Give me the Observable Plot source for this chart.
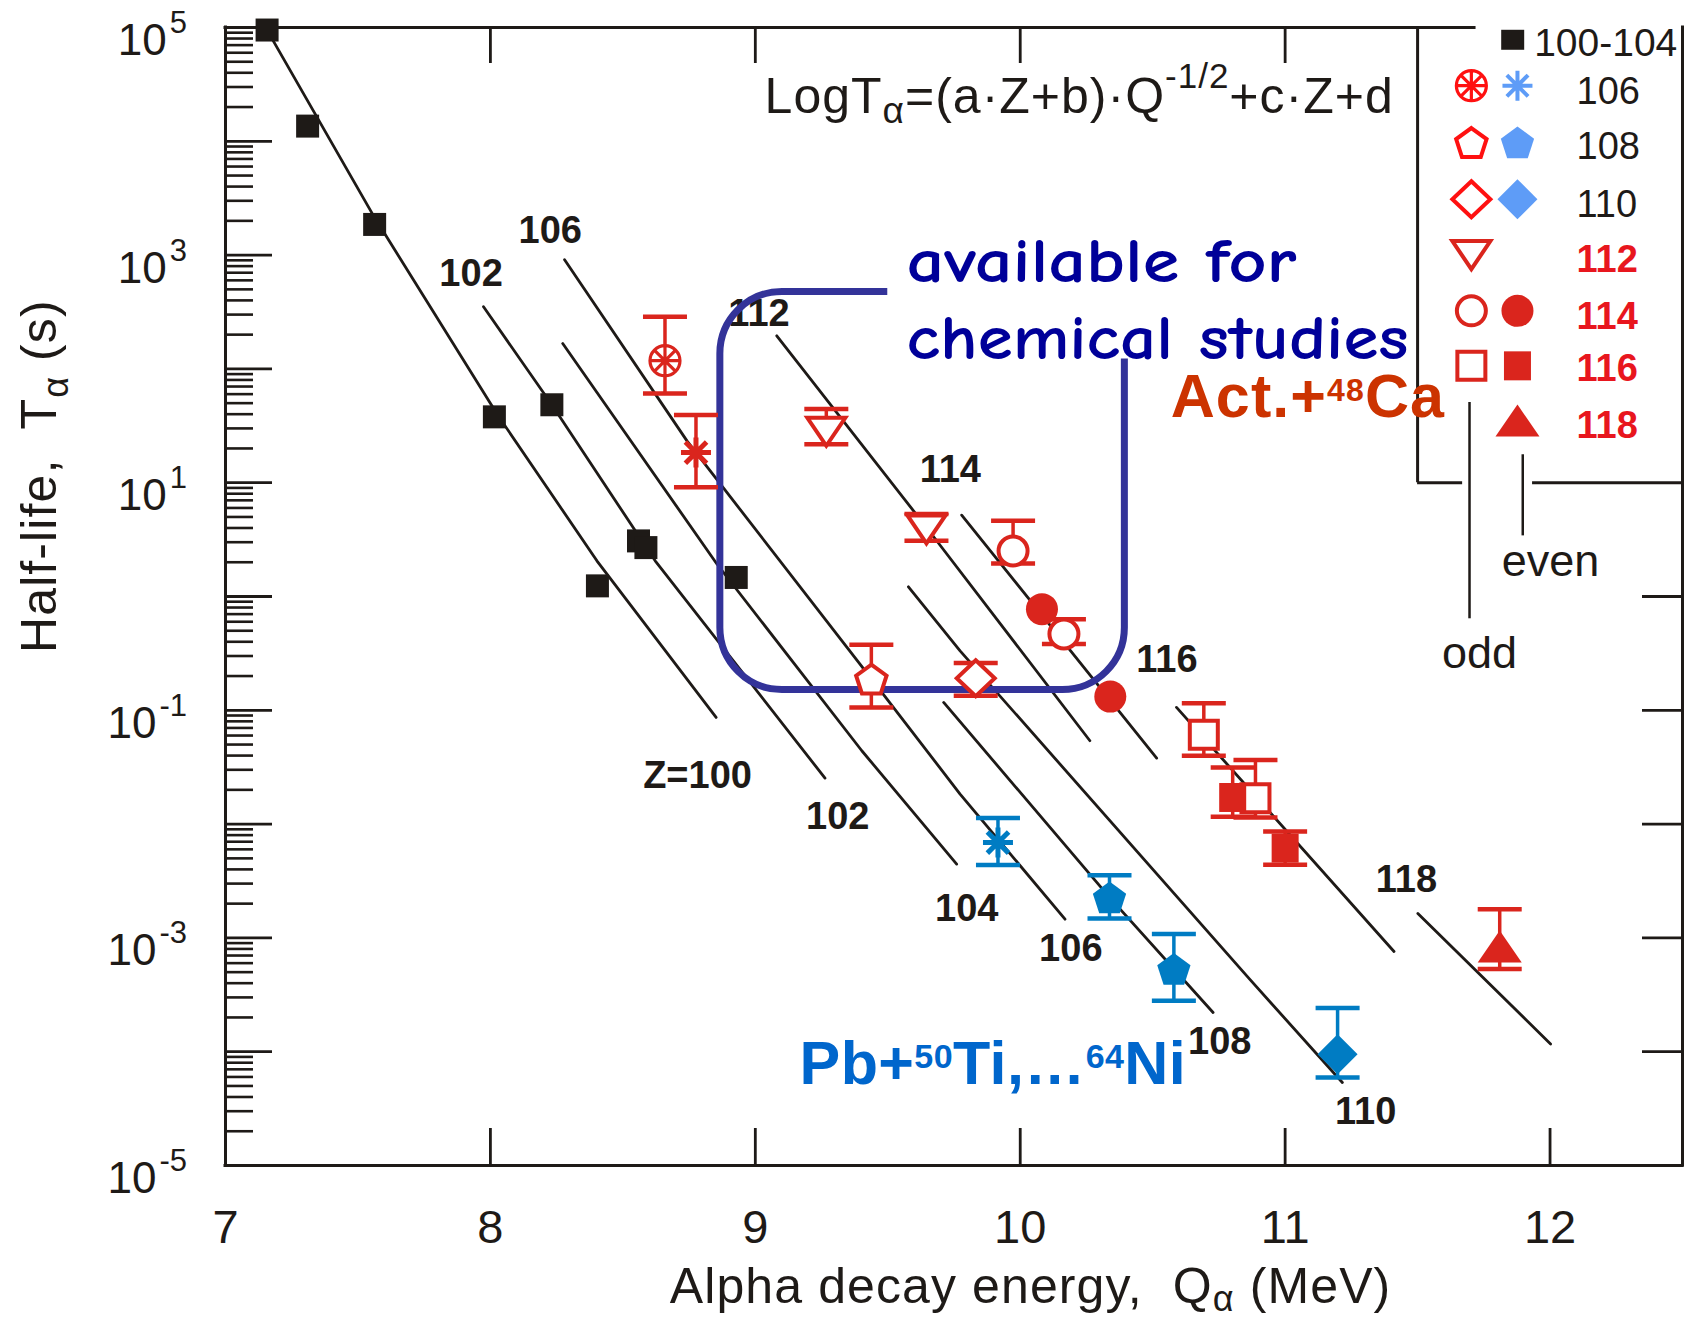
<!DOCTYPE html>
<html>
<head>
<meta charset="utf-8">
<script src="https://cdn.jsdelivr.net/npm/d3@7"></script>
<script src="https://cdn.jsdelivr.net/npm/@observablehq/plot@0.6"></script>
<style>
html,body{margin:0;padding:0;background:#fff;}
#chart svg{display:block;}
</style>
</head>
<body>
<div id="chart"></div>
<script>
// ---------------- axes ----------------
const xDomain = [7, 12.5];
const yDomain = [1e-5, 1e5];
const xTickLabels = [7, 8, 9, 10, 11, 12];
const xBottomTicks = [8, 9, 10, 11, 12];
const xTopTicks = [8, 9, 10, 11];
const yMajorExps = [-4, -3, -2, -1, 0, 1, 2, 3, 4];
const yLabelExps = [5, 3, 1, -1, -3, -5];
const yRightExps = [-4, -3, -2, -1, 0];
const yMinorMantissas = [2, 3, 4, 5, 6, 7, 8, 9];

// ---------------- Z = 100-104 (black squares) ----------------
const blackQ = [7.157, 7.310, 7.563, 8.015, 8.232, 8.404, 8.559, 8.587, 8.928];
const blackT = [9.5e4, 1.36e4, 1.86e3, 37.9, 48.4, 1.24, 3.08, 2.69, 1.47];

// ---------------- Act.+48Ca (red) ----------------
const actZ     = [106, 106, 112, 112, 114, 114, 114, 114, 108, 110, 116, 116, 116, 116, 118];
const actShape = ["circAst", "asterisk", "triDown", "triDown", "circle", "circle", "circle", "circle", "pent", "diamond", "square", "square", "square", "square", "triUp"];
const actOpen  = [true, true, true, true, true, false, true, false, true, true, true, false, true, false, false];
const actQ     = [8.659, 8.776, 9.268, 9.646, 9.973, 10.082, 10.165, 10.340, 9.438, 9.832, 10.693, 10.802, 10.888, 11.000, 11.81];
const actT     = [118, 18.4, 28.6, 3.96, 2.51, 0.774, 0.468, 0.132, 0.188, 0.191, 0.061, 0.01714, 0.0169, 0.00615, 8.24e-4];
const actLo    = [60.8, 9.1, 21.8, 3.09, 1.95, null, 0.382, null, 0.106, 0.134, 0.0398, 0.01159, 0.01143, 0.00439, 5.32e-4];
const actHi    = [287, 39.3, 44.4, 5.3, 4.62, null, 0.632, null, 0.377, 0.261, 0.1156, 0.0314, 0.0365, 0.00861, 1.79e-3];

// ---------------- Pb+50Ti ... 64Ni (blue) ----------------
const pbZ     = [106, 108, 108, 110];
const pbShape = ["asterisk", "pent", "pent", "diamond"];
const pbQ     = [9.916, 10.337, 10.580, 11.198];
const pbT     = [6.89e-3, 2.26e-3, 5.32e-4, 9.5e-5];
const pbLo    = [4.37e-3, 1.48e-3, 2.8e-4, 5.93e-5];
const pbHi    = [0.0113, 3.56e-3, 1.08e-3, 2.42e-4];

// ---------------- systematics lines (one per Z) ----------------
const lineZ = [100, 102, 104, 106, 108, 110, 112, 114, 116, 118];
const lineQ = [
  [7.157, 7.559, 8.025, 8.402, 8.852],
  [7.974, 8.232, 8.622, 9.263],
  [8.273, 8.855, 9.402, 9.760],
  [8.280, 8.742, 9.439, 9.773, 10.169],
  [9.711, 10.338, 10.728],
  [9.578, 9.773, 10.866, 11.216],
  [9.081, 9.647, 10.263],
  [9.779, 10.515],
  [10.590, 11.411],
  [11.501, 12.002]
];
const lineT = [
  [9.48e4, 2213, 40.1, 2.06, 0.0865],
  [351.6, 48.4, 2.06, 0.02535],
  [167, 1.93, 0.0441, 0.00445],
  [910, 23.3, 0.188, 0.01837, 1.46e-3],
  [0.1172, 2.26e-3, 2.21e-4],
  [1.216, 0.333, 4.34e-4, 5.36e-5],
  [195.4, 4.02, 0.054],
  [5.19, 0.038],
  [0.106, 7.59e-4],
  [1.64e-3, 1.17e-4]
];

// ---------------- Z labels on lines ----------------
const zLabelText = ["106", "102", "112", "114", "116", "118", "Z=100", "102", "104", "106", "108", "110"];
const zLabelQ = [8.226, 7.927, 9.014, 9.736, 10.554, 11.458, 8.782, 9.311, 9.798, 10.191, 10.753, 11.304];
const zLabelT = [1618, 678, 306, 12.9, 0.275, 3.21e-3, 0.0268, 0.01156, 1.81e-3, 8.05e-4, 1.22e-4, 2.96e-5];

// ---------------- legend ----------------
const legendLabels   = ["106", "108", "110", "112", "114", "116", "118"];
const legendBold     = [false, false, false, true, true, true, true];
const legendSymT     = [3.08e4, 9.75e3, 3.10e3, 1.02e3, 323.6, 106.4, 34.5];
const legendLabelT   = [2.72e4, 8.93e3, 2.74e3, 900, 286, 100.7, 31.9];
const legendOdd      = ["circAstO", "pentO", "diamondO", "triDownO", "circleO", "squareO", null];
const legendEven     = ["asteriskB", "pentF", "diamondF", null, "circleF", "squareF", "triUpF"];
const legendOddQ = 11.703, legendEvenQ = 11.877, legendLabelQ = 12.100;
const legendBoxQ = [11.5, 12.5], legendBoxT = [10, 1e5];
const legendGapQ = [11.670, 11.934];
const oddLineQ = 11.696, oddLineT = [0.637, 50.7];
const evenLineQ = 11.897, evenLineT = [3.41, 17.6];
const frameTopEndQ = 11.715;

// ---------------- box "available for chemical studies" ----------------
const boxQ = [8.868, 10.395];
const boxT = [0.1507, 474];
const boxTopEndQ = 9.50;
const boxRightTopT = 122;

// ---------------- styles ----------------
const FONT = "'Liberation Sans', Arial, Helvetica, sans-serif";
const INK = "#1e1a17";
const RED = "#da251d";
const BLUE = "#007cc3";
const LRED = "#ff1111";
const LBLUE = "#5e9cf7";
const LABELRED = "#e8161e";
const plotW = 1685 - 225 - 3, plotH = 1319 - 27 - 154;

// ---------------- symbols ----------------
const sym = f => ({draw(c, size) { const k = Math.sqrt(size / Math.PI) / 10; f(c, k); }});
const poly = pts => sym((c, k) => { pts.forEach(([px, py], i) => i ? c.lineTo(px * k, py * k) : c.moveTo(px * k, py * k)); c.closePath(); });
const circ = R => sym((c, k) => { c.moveTo(R * k, 0); c.arc(0, 0, R * k, 0, 2 * Math.PI); });
const pent = (R, off) => poly(d3.range(5).map(i => { const a = -Math.PI / 2 + i * 2 * Math.PI / 5; return [R * Math.cos(a), R * Math.sin(a) + off]; }));
const spokes = (c, k, R) => { for (let i = 0; i < 4; i++) { const a = i * Math.PI / 4; c.moveTo(-R * k * Math.cos(a), -R * k * Math.sin(a)); c.lineTo(R * k * Math.cos(a), R * k * Math.sin(a)); } };
const SYM = {
  circleO: circ(14.5), circleF: circ(16),
  squareO: poly([[-14, -14], [14, -14], [14, 14], [-14, 14]]),
  squareF: poly([[-13.5, -14.5], [13.5, -14.5], [13.5, 14.5], [-13.5, 14.5]]),
  triDownO: poly([[-19, -13], [19, -13], [0, 15]]),
  triUpF: poly([[0, -17], [22, 15], [-22, 15]]),
  pentO: pent(16, 1.5), pentF: pent(17.5, 1.5),
  diamondO: poly([[0, -18], [19, 0], [0, 18], [-19, 0]]),
  diamondF: poly([[0, -20], [20, 0], [0, 20], [-20, 0]]),
  asterisk: sym((c, k) => spokes(c, k, 15)),
  circAst: sym((c, k) => { c.moveTo(15 * k, 0); c.arc(0, 0, 15 * k, 0, 2 * Math.PI); spokes(c, k, 14); }),
  hbar: sym((c, k) => { c.moveTo(-22 * k, 0); c.lineTo(22 * k, 0); }),
  blackSq: poly([[-11.5, -11.5], [11.5, -11.5], [11.5, 11.5], [-11.5, 11.5]]),
  legendSq: poly([[-11.5, -10], [11.5, -10], [11.5, 10], [-11.5, 10]])
};

// ---------------- tables ----------------
const blackRows = blackQ.map((q, i) => ({Q: q, T: blackT[i]}));
const actRows = actQ.map((q, i) => ({Z: actZ[i], shape: actShape[i], open: actOpen[i], Q: q, T: actT[i], lo: actLo[i], hi: actHi[i]}));
const pbRows = pbQ.map((q, i) => ({Z: pbZ[i], shape: pbShape[i], open: false, Q: q, T: pbT[i], lo: pbLo[i], hi: pbHi[i]}));
const lineRows = lineZ.flatMap((z, i) => lineQ[i].map((q, j) => ({Z: z, Q: q, T: lineT[i][j]})));
const zLabelRows = zLabelText.map((s, i) => ({s, Q: zLabelQ[i], T: zLabelT[i]}));
const minorTicks = d3.range(-5, 5).flatMap(e => yMinorMantissas.map(m => m * 10 ** e));

function errMarks(rows, color) {
  const e = rows.filter(r => r.lo != null);
  const caps = e.flatMap(r => [{Q: r.Q, T: r.lo}, {Q: r.Q, T: r.hi}]);
  return [
    Plot.ruleX(e, {x: "Q", y1: "lo", y2: "hi", stroke: color, strokeWidth: 3.5}),
    Plot.dot(caps, {x: "Q", y: "T", symbol: SYM.hbar, r: 10, stroke: color, strokeWidth: 4.5, fill: "none"})
  ];
}
function markerMarks(rows, color) {
  const groups = d3.groups(rows, r => r.shape + (r.open ? "|O" : "|F"));
  return groups.map(([key, g]) => {
    const [shape, kind] = key.split("|");
    if (shape === "asterisk") return Plot.dot(g, {x: "Q", y: "T", symbol: SYM.asterisk, r: 10, stroke: color, strokeWidth: 5, fill: "none"});
    if (shape === "circAst") return Plot.dot(g, {x: "Q", y: "T", symbol: SYM.circAst, r: 10, stroke: color, strokeWidth: 3.2, fill: "white"});
    const open = kind === "O";
    const s = SYM[shape + (open ? "O" : "F")];
    return Plot.dot(g, {x: "Q", y: "T", symbol: s, r: 10, fill: open ? "white" : color, stroke: open ? color : "none", strokeWidth: 4});
  });
}
function legendMarks() {
  const marks = [];
  const colorOf = (k, i) => i < 3 ? (k.endsWith("O") ? LRED : LBLUE) : RED;
  legendOdd.forEach((k, i) => {
    if (!k) return;
    const base = k.slice(0, -1);
    const d = [{Q: legendOddQ, T: legendSymT[i]}];
    if (base === "circAst") marks.push(Plot.dot(d, {x: "Q", y: "T", symbol: SYM.circAst, r: 10, stroke: LRED, strokeWidth: 3.2, fill: "white"}));
    else marks.push(Plot.dot(d, {x: "Q", y: "T", symbol: SYM[k], r: 10, fill: "white", stroke: colorOf(k, i), strokeWidth: 4}));
  });
  legendEven.forEach((k, i) => {
    if (!k) return;
    const d = [{Q: legendEvenQ, T: legendSymT[i]}];
    const c = i < 3 ? LBLUE : RED;
    if (k === "asteriskB") marks.push(Plot.dot(d, {x: "Q", y: "T", symbol: SYM.asterisk, r: 10, stroke: c, strokeWidth: 4, fill: "none"}));
    else marks.push(Plot.dot(d, {x: "Q", y: "T", symbol: SYM[k], r: 10, fill: c}));
  });
  const lab = legendLabels.map((s, i) => ({s, Q: legendLabelQ, T: legendLabelT[i], bold: legendBold[i]}));
  marks.push(Plot.text(lab.filter(d => !d.bold), {x: "Q", y: "T", text: "s", textAnchor: "start", lineAnchor: "middle", fontSize: 38, fill: INK}));
  marks.push(Plot.text(lab.filter(d => d.bold), {x: "Q", y: "T", text: "s", textAnchor: "start", lineAnchor: "middle", fontSize: 38, fontWeight: "bold", fill: LABELRED}));
  marks.push(Plot.dot([{Q: 11.859, T: 7.8e4}], {x: "Q", y: "T", symbol: SYM.legendSq, r: 10, fill: INK}));
  marks.push(Plot.text([{Q: 11.940, T: 7.26e4, s: "100-104"}], {x: "Q", y: "T", text: "s", textAnchor: "start", lineAnchor: "middle", fontSize: 39, fill: INK}));
  // legend borders
  marks.push(Plot.ruleX([{Q: legendBoxQ[0], a: legendBoxT[0], b: legendBoxT[1]}], {x: "Q", y1: "a", y2: "b", stroke: INK, strokeWidth: 3}));
  marks.push(Plot.ruleY([{T: legendBoxT[0], a: legendBoxQ[0], b: legendGapQ[0]}, {T: legendBoxT[0], a: legendGapQ[1], b: legendBoxQ[1]}], {y: "T", x1: "a", x2: "b", stroke: INK, strokeWidth: 3}));
  marks.push(Plot.ruleX([{Q: oddLineQ, a: oddLineT[0], b: oddLineT[1]}, {Q: evenLineQ, a: evenLineT[0], b: evenLineT[1]}], {x: "Q", y1: "a", y2: "b", stroke: INK, strokeWidth: 2.5}));
  marks.push(Plot.text([{Q: 11.734, T: 0.316, s: "odd"}, {Q: 12.002, T: 2.02, s: "even"}], {x: "Q", y: "T", text: "s", lineAnchor: "middle", fontSize: 45, fill: INK}));
  return marks;
}

// rich text helper (sub/superscripts)
function rich(g, x, y, parts, o) {
  const t = g.append("text").attr("x", x).attr("y", y)
    .attr("font-size", o.size).attr("fill", o.fill || INK)
    .attr("font-weight", o.weight || "normal")
    .attr("font-family", o.family || FONT)
    .attr("text-anchor", o.anchor || "start");
  if (o.transform) t.attr("transform", o.transform);
  if (o.spacing) t.attr("letter-spacing", o.spacing);
  if (o.textLength) t.attr("textLength", o.textLength).attr("lengthAdjust", "spacingAndGlyphs");
  let rise = 0;
  for (const p of parts) {
    const r = p.rise || 0;
    const ts = t.append("tspan").attr("dy", r - rise).attr("font-size", p.size || o.size).text(p.t);
    if (p.dx) ts.attr("dx", p.dx);
    rise = r;
  }
  return t;
}

function boxMark(index, scales) {
  const {x, y} = scales;
  const L = x(boxQ[0]), R = x(boxQ[1]), T = y(boxT[1]), B = y(boxT[0]);
  const xe = x(boxTopEndQ), ye = y(boxRightTopT), r = 62;
  const d = `M${xe},${T}L${L + r},${T}A${r},${r} 0 0 0 ${L},${T + r}L${L},${B - r}A${r},${r} 0 0 0 ${L + r},${B}L${R - r},${B}A${r},${r} 0 0 0 ${R},${B - r}L${R},${ye}`;
  const g = d3.create("svg:g");
  g.append("path").attr("d", d).attr("fill", "none").attr("stroke", "#333399").attr("stroke-width", 7);
  return g.node();
}

function textMark(index, scales, values, dims) {
  const {x, y} = scales;
  const g = d3.create("svg:g");
  // y tick labels 10^n
  for (const e of yLabelExps) {
    rich(g, dims.marginLeft - 38, y(10 ** e) + 28, [
      {t: "10"},
      {t: e < 0 ? "-" + Math.abs(e) : String(e), size: 31, rise: -22, dx: 3}
    ], {size: 44, anchor: "end"});
  }
  // axis titles
  rich(g, x(8.679), dims.height - 16, [
    {t: "Alpha decay energy,\u00a0 Q"}, {t: "\u03b1", size: 36, rise: 8}, {t: " (MeV)"}
  ], {size: 50, spacing: 1.1});
  rich(g, 0, 0, [
    {t: "Half-life,\u00a0 T"}, {t: "\u03b1", size: 36, rise: 12}, {t: " (s)"}
  ], {size: 50, anchor: "middle", spacing: 1.1, transform: `translate(${dims.marginLeft - 169},${y(11.3)}) rotate(-90)`});
  // formula
  rich(g, x(9.037), y(1.746e4), [
    {t: "LogT"}, {t: "\u03b1", size: 37, rise: 10}, {t: "=(a\u00b7Z+b)\u00b7Q"},
    {t: "-1/2", size: 35, rise: -25}, {t: "+c\u00b7Z+d"}
  ], {size: 50, spacing: 1});
  // reaction labels
  rich(g, x(10.570), y(37.4), [
    {t: "Act.+"}, {t: "48", size: 32, rise: -16}, {t: "Ca"}
  ], {size: 61, weight: "bold", fill: "#cc3300", spacing: 1.1});
  rich(g, x(9.169), y(5.19e-5), [
    {t: "Pb+"}, {t: "50", size: 34, rise: -16}, {t: "Ti,\u2026"}, {t: "64", size: 34, rise: -16}, {t: "Ni"}
  ], {size: 61, weight: "bold", fill: "#0066cc", spacing: 0.4});
  // chemistry box text
  const cfam = "'Comic Sans MS','Comic Neue',Lato,'Open Sans',sans-serif";
  rich(g, x(9.573), y(571.6), [{t: "available for"}], {size: 62, weight: "bold", fill: "#000099", family: cfam, textLength: 390});
  rich(g, x(9.573), y(121.9), [{t: "chemical studies"}], {size: 62, weight: "bold", fill: "#000099", family: cfam, textLength: 502});
  return g.node();
}

const chart = Plot.plot({
  width: 1685, height: 1319,
  marginLeft: 225, marginRight: 3, marginTop: 27, marginBottom: 154,
  x: {domain: xDomain, axis: null},
  y: {type: "log", domain: yDomain, axis: null},
  style: {fontFamily: FONT, background: "#fff", overflow: "visible"},
  marks: [
    // ticks
    Plot.ruleY(minorTicks, {y: d => d, insetRight: plotW - 28, stroke: INK, strokeWidth: 2.6}),
    Plot.ruleY(yMajorExps.map(e => 10 ** e), {y: d => d, insetRight: plotW - 47, stroke: INK, strokeWidth: 2.8}),
    Plot.ruleY(yRightExps.map(e => 10 ** e), {y: d => d, insetLeft: plotW - 40, stroke: INK, strokeWidth: 2.8}),
    Plot.ruleX(xBottomTicks, {x: d => d, insetTop: plotH - 37, stroke: INK, strokeWidth: 2.8}),
    Plot.ruleX(xTopTicks, {x: d => d, insetBottom: plotH - 36, stroke: INK, strokeWidth: 2.8}),
    // frame
    Plot.ruleX([xDomain[0], xDomain[1]], {x: d => d, stroke: INK, strokeWidth: 3, strokeLinecap: "square"}),
    Plot.ruleY([yDomain[0]], {y: d => d, stroke: INK, strokeWidth: 3, strokeLinecap: "square"}),
    Plot.ruleY([{T: yDomain[1], a: xDomain[0], b: frameTopEndQ}], {y: "T", x1: "a", x2: "b", stroke: INK, strokeWidth: 3, strokeLinecap: "square"}),
    // x tick labels
    Plot.text(xTickLabels, {x: d => d, text: d => String(d), frameAnchor: "bottom", dy: 62, lineAnchor: "middle", fontSize: 47, fill: INK}),
    // systematics lines
    Plot.line(lineRows, {x: "Q", y: "T", z: "Z", stroke: INK, strokeWidth: 2.8}),
    Plot.text(zLabelRows, {x: "Q", y: "T", text: "s", fontSize: 38, fontWeight: "bold", lineAnchor: "middle", fill: INK}),
    // box
    boxMark,
    // error bars and markers
    ...errMarks(actRows, RED),
    ...errMarks(pbRows, BLUE),
    Plot.dot(blackRows, {x: "Q", y: "T", symbol: SYM.blackSq, r: 10, fill: INK}),
    ...markerMarks(actRows, RED),
    ...markerMarks(pbRows, BLUE),
    // legend
    ...legendMarks(),
    // rich text
    textMark
  ]
});
document.getElementById("chart").appendChild(chart);
</script>
</body>
</html>
